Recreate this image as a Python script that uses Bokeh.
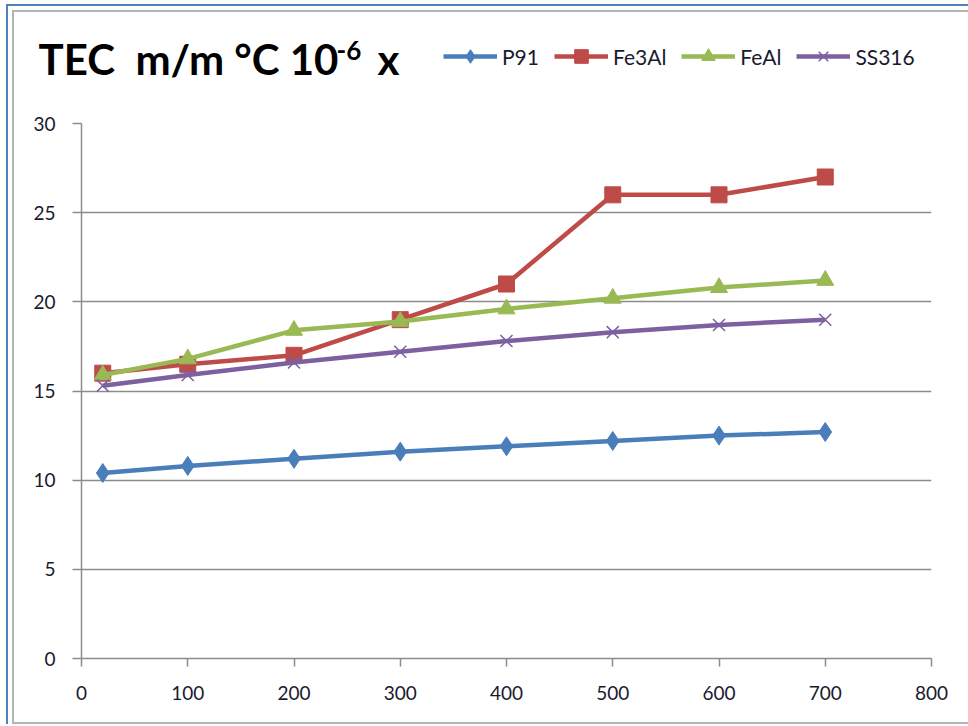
from bokeh.plotting import figure
from bokeh.models import Legend, LegendItem, FixedTicker, Range1d
from bokeh.layouts import column
from bokeh.core.properties import value
from bokeh.embed import file_html
from bokeh.resources import INLINE

# ---- data ----
temperature = [20, 100, 200, 300, 400, 500, 600, 700]
p91 = [10.4, 10.8, 11.2, 11.6, 11.9, 12.2, 12.5, 12.7]
fe3al = [16.0, 16.5, 17.0, 19.0, 21.0, 26.0, 26.0, 27.0]
feal = [15.9, 16.8, 18.4, 18.9, 19.6, 20.2, 20.8, 21.2]
ss316 = [15.3, 15.9, 16.6, 17.2, 17.8, 18.3, 18.7, 19.0]
series_names = ["P91", "Fe3Al", "FeAl", "SS316"]
x_ticks = [0, 100, 200, 300, 400, 500, 600, 700, 800]
y_ticks = [0, 5, 10, 15, 20, 25, 30]
title_main = "TEC\u00a0 m/m °C 10"
title_exp = "-6"
title_tail = "x"

FONT = "Lato"
TXT = "#1a1a2e"
AXC = "#8c8c8c"
colors = ["#4a7ebb", "#be4b48", "#98b954", "#7d60a0"]
markers = ["diamond", "square", "triangle", "x"]
msizes = [19, 16, 17, 17]

W = 954
HEAD_H = 99
ML, MR = 67, 37

# ---- header figure: title + legend ----
h = figure(width=W, height=HEAD_H, output_backend="svg", toolbar_location=None,
           x_range=Range1d(0, W), y_range=Range1d(0, HEAD_H),
           min_border=0, min_border_left=0, min_border_right=0,
           min_border_top=0, min_border_bottom=0)
h.frame_align = False
h.outline_line_color = None
h.axis.visible = False
h.grid.visible = False
h.background_fill_color = "white"
h.border_fill_color = "white"

h.text(x=[24], y=[53], text=[title_main], text_font=value(FONT), text_font_style="bold",
       text_font_size="42px", text_color="black", text_baseline="middle")
h.text(x=[322], y=[61], text=[title_exp], text_font=value(FONT), text_font_style="bold",
       text_font_size="26px", text_color="black", text_baseline="middle")
h.text(x=[363], y=[53], text=[title_tail], text_font=value(FONT), text_font_style="bold",
       text_font_size="42px", text_color="black", text_baseline="middle")

nan = float("nan")
items = []
for name, c, m, s in zip(series_names, colors, markers, msizes):
    ln = h.line(x=[nan, nan], y=[nan, nan], line_color=c, line_width=4.5)
    if m == "x":
        mk = h.scatter(x=[nan], y=[nan], marker=m, size=s, line_color=c, line_width=1.5)
    else:
        mk = h.scatter(x=[nan], y=[nan], marker=m, size=s, fill_color=c, line_color=c)
    items.append(LegendItem(label=name, renderers=[ln, mk]))

legend = Legend(items=items, orientation="horizontal", location=(429, 38),
                glyph_width=54, glyph_height=34, label_standoff=5, spacing=15,
                padding=0, margin=0, border_line_color=None, background_fill_alpha=0,
                label_text_font=FONT, label_text_font_size="21px", label_text_color=TXT)
h.add_layout(legend, "center")

# ---- main chart ----
p = figure(width=W, height=611, output_backend="svg", toolbar_location=None,
           x_range=Range1d(0, 800), y_range=Range1d(0, 30),
           min_border_left=ML, min_border_right=MR, min_border_top=12, min_border_bottom=64)
p.frame_align = False
p.outline_line_color = None
p.background_fill_color = "white"
p.border_fill_color = "white"

for ax in (p.xaxis[0], p.yaxis[0]):
    ax.axis_line_color = AXC
    ax.axis_line_width = 1.5
    ax.major_tick_line_color = AXC
    ax.major_tick_line_width = 1.5
    ax.minor_tick_line_color = None
    ax.major_tick_in = 0
    ax.major_label_text_font = FONT
    ax.major_label_text_font_size = "19px"
    ax.major_label_text_color = TXT
p.xaxis.ticker = FixedTicker(ticks=x_ticks)
p.yaxis.ticker = FixedTicker(ticks=y_ticks)
p.xaxis.major_tick_out = 8
p.yaxis.major_tick_out = 9
p.xaxis.major_label_standoff = 19
p.yaxis.major_label_standoff = 17
p.xgrid.grid_line_color = None
p.ygrid.grid_line_color = AXC
p.ygrid.grid_line_width = 1.5

for ys, c, m, s in zip([p91, fe3al, feal, ss316], colors, markers, msizes):
    p.line(temperature, ys, line_color=c, line_width=4.5)
    if m == "x":
        p.scatter(temperature, ys, marker=m, size=s, line_color=c, line_width=1.5)
    else:
        p.scatter(temperature, ys, marker=m, size=s, fill_color=c, line_color=c)

inner = column(h, p, spacing=0,
               styles={"border-left": "2px solid #b4b4b4", "border-top": "2px solid #b4b4b4",
                       "border-bottom": "2px solid #b4b4b4"})
root = column(inner, spacing=0,
              styles={"border-left": "2px solid #4f81bd", "border-top": "2px solid #4f81bd",
                      "padding-left": "4px", "padding-top": "4px",
                      "margin-left": "6px", "margin-top": "4px"})

open("out.html", "w").write(file_html(root, INLINE))
